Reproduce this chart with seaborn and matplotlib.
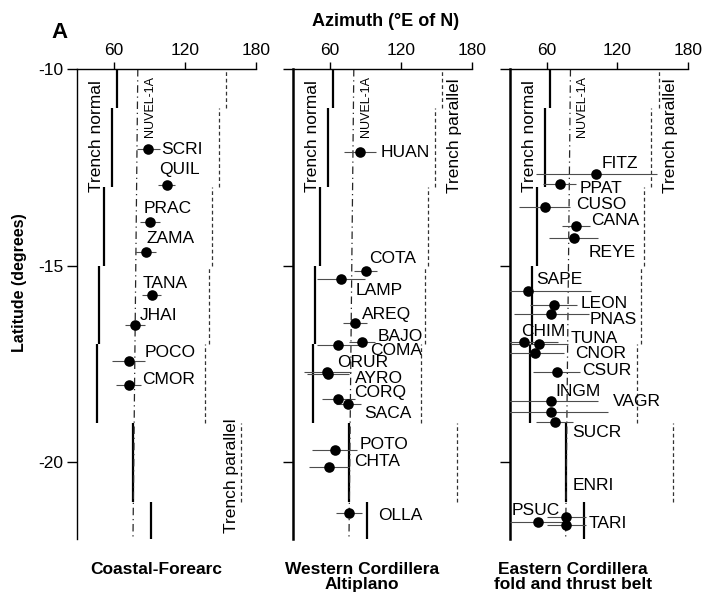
import numpy as np
import pandas as pd
import matplotlib
matplotlib.use("Agg")
import matplotlib.pyplot as plt
import seaborn as sns

# ---------------- data ----------------
coastal_sites = ["SCRI", "QUIL", "PRAC", "ZAMA", "TANA", "JHAI", "POCO", "CMOR"]
coastal_lat = [-12.04, -12.94, -13.88, -14.65, -15.75, -16.50, -17.43, -18.04]
coastal_az = [89.3, 104.5, 90.5, 87.0, 92.2, 78.0, 72.5, 72.5]
coastal_err = [10.0, 7.0, 8.6, 9.0, 8.0, 8.6, 13.6, 10.5]

western_sites = ["HUAN", "COTA", "LAMP", "AREQ", "BAJO", "COMA", "ORUR", "AYRO",
                 "CORQ", "SACA", "POTO", "CHTA", "OLLA"]
western_lat = [-12.12, -15.13, -15.33, -16.47, -16.95, -17.02, -17.71, -17.75,
               -18.38, -18.51, -19.69, -20.13, -21.30]
western_az = [85.4, 90.2, 69.8, 81.2, 87.4, 67.3, 58.1, 58.6,
              67.3, 75.7, 64.2, 59.4, 76.2]
western_err = [13.7, 9.5, 20.3, 10.4, 11.0, 18.0, 20.0, 18.0,
               14.0, 10.5, 19.0, 17.0, 11.0]

eastern_sites = ["FITZ", "PPAT", "CUSO", "CANA", "REYE", "SAPE", "LEON", "PNAS",
                 "CHIM", "TUNA", "CNOR", "CSUR", "INGM", "VAGR", "SUCR", "ENRI",
                 "PSUC", "TARI"]
eastern_lat = [-12.66, -12.92, -13.52, -14.00, -14.30, -15.65, -16.01, -16.24,
               -16.94, -17.00, -17.22, -17.71, -18.44, -18.71, -18.97, -21.40,
               -21.51, -21.60]
eastern_az = [102.3, 71.1, 58.3, 84.7, 83.0, 44.1, 66.2, 64.0,
              41.3, 54.0, 49.8, 68.8, 64.0, 63.4, 66.8, 76.8,
              52.6, 76.8]
eastern_err = [51.0, 14.0, 22.0, 12.0, 21.0, 54.0, 20.0, 32.0,
               28.0, 24.0, 25.0, 20.0, 40.0, 49.0, 16.0, 16.6,
               24.0, 16.6]

band_top = [-10, -11, -13, -15, -17, -19, -21]
band_bottom = [-11, -13, -15, -17, -19, -21, -22]
trench_normal = [63.0, 58.5, 52.0, 47.8, 45.8, 76.5, 91.6]
trench_parallel = [155.0, 149.0, 143.0, 140.0, 137.0, 167.0, np.nan]

nuvel_lat = [-10, -22]
nuvel_az = [80.3, 76.2]

panel_titles = ["Coastal-Forearc", "Western Cordillera\nAltiplano",
                "Eastern Cordillera\nfold and thrust belt"]
x_ticks = [60, 120, 180]
y_ticks = [-10, -15, -20]
y_tick_labels = ["-10", "-15", "-20"]

# ---------------- layout (label offsets in pixels, y downward) ----------------
label_offsets = {
    "SCRI": (13, 0), "QUIL": (-7, -15), "PRAC": (-6, -13), "ZAMA": (1, -13),
    "TANA": (-9, -12), "JHAI": (5, -9), "POCO": (16, -9), "CMOR": (14, -6),
    "HUAN": (21, 0), "COTA": (4, -12), "LAMP": (14, 12), "AREQ": (7, -9),
    "BAJO": (15, -6), "COMA": (32, 5), "ORUR": (10, -10), "AYRO": (27, 5),
    "CORQ": (16, -6), "SACA": (16, 10), "POTO": (25, -6), "CHTA": (25, -6),
    "OLLA": (29, 2),
    "FITZ": (5, -10), "PPAT": (20, 5), "CUSO": (32, -3), "CANA": (15, -6),
    "REYE": (15, 14), "SAPE": (8, -12), "LEON": (27, -2), "PNAS": (38, 5),
    "CHIM": (-3, -10), "TUNA": (31, -6), "CNOR": (41, 1), "CSUR": (25, -2),
    "INGM": (4, -9), "VAGR": (62, -10), "SUCR": (18, 11), "ENRI": (6, -32),
    "PSUC": (-26, -11), "TARI": (22, -2),
}

sns.set_style("ticks")
plt.rcParams["font.family"] = ["Liberation Sans", "DejaVu Sans"]
for k in ["text.color", "axes.labelcolor", "xtick.color", "ytick.color",
          "axes.edgecolor"]:
    plt.rcParams[k] = "black"

W, H = 705, 600
fig = plt.figure(figsize=(W / 100, H / 100), dpi=100)

panels = [
    (coastal_sites, coastal_lat, coastal_az, coastal_err, 77, 179),
    (western_sites, western_lat, western_az, western_err, 293, 179),
    (eastern_sites, eastern_lat, eastern_az, eastern_err, 510, 178),
]
top_px, bot_px = 69, 539

for i, (sites, lat, az, err, left_px, w_px) in enumerate(panels):
    ax = fig.add_axes([left_px / W, 1 - bot_px / H, w_px / W, (bot_px - top_px) / H])
    df = pd.DataFrame({"site": sites, "lat": lat, "az": az, "err": err})

    # reference lines
    ax.vlines(trench_normal, band_bottom, band_top, color="black", lw=1.6, zorder=2)
    ax.vlines(trench_parallel, band_bottom, band_top, color="0.2", lw=0.9,
              linestyles=(0, (3, 2.2)), zorder=2)
    ax.plot(nuvel_az, nuvel_lat, color="0.15", lw=0.9, ls=(0, (6, 3, 1, 3)), zorder=2)

    # error bars
    ax.hlines(df["lat"], df["az"] - df["err"], df["az"] + df["err"],
              color="0.3", lw=0.8, zorder=3)
    sns.scatterplot(data=df, x="az", y="lat", ax=ax, color="black", s=58,
                    edgecolor="black", linewidth=0, zorder=5, legend=False)

    for s, a, la in zip(sites, az, lat):
        dx, dy = label_offsets[s]
        ax.annotate(s, (a, la), xytext=(dx, -dy), textcoords="offset pixels",
                    ha="left", va="center", fontsize=12.5, color="black", zorder=6)

    ax.set_xlim(29, 180)
    ax.set_ylim(-21.95, -10)
    ax.set_xlabel("")
    ax.set_ylabel("")
    for sp in ["right", "bottom"]:
        ax.spines[sp].set_visible(False)
    ax.spines["top"].set_linewidth(1.0)
    ax.spines["left"].set_linewidth(1.0 if i == 0 else 1.8)
    ax.xaxis.tick_top()
    ax.set_xticks(x_ticks)
    ax.set_xticklabels([str(t) for t in x_ticks], fontsize=12.5)
    ax.set_yticks(y_ticks)
    if i == 0:
        ax.set_yticklabels(y_tick_labels, fontsize=12.5)
    else:
        ax.set_yticklabels([])
    ax.tick_params(axis="x", direction="out", length=5, width=1, pad=3)
    ax.tick_params(axis="y", direction="out", length=7, width=1, pad=3)

    # annotations
    ax.text(45.5, -11.7, "Trench normal", rotation=90, ha="center", va="center",
            fontsize=12.5)
    ax.text(90.5, -10.95, "NUVEL-1A", rotation=90, ha="center", va="center",
            fontsize=9)
    if i == 0:
        ax.text(159.5, -20.35, "Trench parallel", rotation=90, ha="center",
                va="center", fontsize=12.5)
    else:
        ax.text(165.5, -11.7, "Trench parallel", rotation=90, ha="center",
                va="center", fontsize=12.5)

# figure-level text
fig.text(386 / W, 1 - 21 / H, "Azimuth (°E of N)", ha="center", va="center",
         fontsize=13, fontweight="bold")
fig.text(60 / W, 1 - 33 / H, "A", ha="center", va="center", fontsize=16,
         fontweight="bold")
fig.text(20 / W, 1 - 283 / H, "Latitude (degrees)", rotation=90, ha="center",
         va="center", fontsize=11.5, fontweight="bold")
title_x = [156, 362, 573]
for tx, t in zip(title_x, panel_titles):
    fig.text(tx / W, 1 - 562 / H, t, ha="center", va="top", fontsize=12.5,
             fontweight="bold", linespacing=1.0)

fig.savefig("out.png", dpi=100)
